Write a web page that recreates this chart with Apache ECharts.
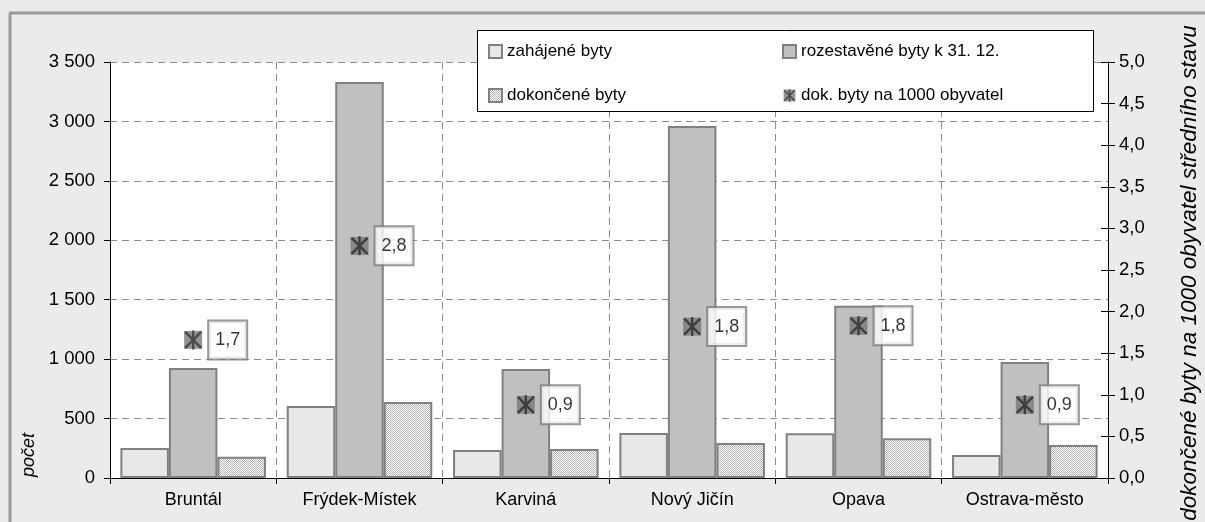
<!DOCTYPE html>
<html>
<head>
<meta charset="utf-8">
<script src="https://cdn.jsdelivr.net/npm/echarts@6/dist/echarts.min.js"></script>
<style>
  html, body { margin: 0; padding: 0; background: #ebebeb; }
  #chart { width: 1205px; height: 522px; }
</style>
</head>
<body>
<div id="chart"></div>
<script>
const categories = ["Bruntál", "Frýdek-Místek", "Karviná", "Nový Jičín", "Opava", "Ostrava-město"];
const zahajene = [252, 606, 235, 379, 376, 194];
const rozestavene = [925, 3332, 917, 2962, 1450, 976];
const dokoncene = [179, 640, 244, 294, 334, 278];
const naTisic = [1.66, 2.79, 0.88, 1.82, 1.83, 0.88];

const FONT = "'Liberation Sans', Arial, sans-serif";

// dotted fill for "dokončené byty"
function dotPattern() {
  const c = document.createElement("canvas");
  c.width = 2;
  c.height = 2;
  const ctx = c.getContext("2d");
  ctx.fillStyle = "#ffffff";
  ctx.fillRect(0, 0, 2, 2);
  ctx.fillStyle = "#b4b4b4";
  ctx.fillRect(0, 0, 1, 1);
  ctx.fillRect(1, 1, 1, 1);
  return c;
}

const markerSvg =
  "<svg xmlns='http://www.w3.org/2000/svg' width='20' height='20'>" +
  "<rect x='1' y='1' width='18' height='18' fill='#7a7a7a'/>" +
  "<path d='M2 2L18 18M18 2L2 18M10 0.5V19.5' stroke='#1e1e1e' stroke-width='2.4'/></svg>";
const markerSymbol = "image://data:image/svg+xml;charset=utf-8," + encodeURIComponent(markerSvg);

const chart = echarts.init(document.getElementById("chart"));

const option = {
  backgroundColor: "#ebebeb",
  animation: false,
  textStyle: { fontFamily: FONT },
  grid: { left: 110, right: 97, top: 62, bottom: 44, backgroundColor: "#fff", show: true, borderWidth: 0 },
  graphic: [
    { type: "line", shape: { x1: 10, y1: 13, x2: 10, y2: 522 }, style: { stroke: "#9a9a9a", lineWidth: 3 } },
    { type: "line", shape: { x1: 9, y1: 13, x2: 1205, y2: 13 }, style: { stroke: "#9a9a9a", lineWidth: 3 } },
    { type: "rect", z: 3, shape: { x: 477.5, y: 30.5, width: 616, height: 81 }, style: { fill: "#fff", stroke: "#000", lineWidth: 1 } },
    {
      type: "text", z: 5, x: 29, y: 455, rotation: Math.PI / 2,
      style: { text: "počet", font: "italic 18px " + FONT, fill: "#000", align: "center", verticalAlign: "middle" }
    },
    {
      type: "text", z: 5, x: 1190, y: 273, rotation: Math.PI / 2,
      style: { text: "dokončené byty na 1000 obyvatel středního stavu", font: "italic 22.5px " + FONT, fill: "#000", align: "center", verticalAlign: "middle" }
    }
  ],
  legend: [
    {
      left: 483, top: 38, orient: "vertical", itemGap: 27, itemWidth: 13, itemHeight: 13,
      textStyle: { fontSize: 17, color: "#000", fontFamily: FONT },
      data: [{ name: "zahájené byty", icon: "rect" }, { name: "dokončené byty", icon: "rect" }]
    },
    {
      left: 777, top: 38, orient: "vertical", itemGap: 27, itemWidth: 13, itemHeight: 13,
      textStyle: { fontSize: 17, color: "#000", fontFamily: FONT },
      data: [{ name: "rozestavěné byty k 31. 12.", icon: "rect" }, { name: "dok. byty na 1000 obyvatel", icon: markerSymbol }]
    }
  ],
  xAxis: {
    type: "category",
    data: categories,
    axisLine: { lineStyle: { color: "#000", width: 1 } },
    axisTick: { show: true, length: 6, lineStyle: { color: "#000" } },
    axisLabel: { fontSize: 18, color: "#000", margin: 13 },
    splitLine: { show: true, lineStyle: { color: "#8c8c8c", type: [7, 5] } }
  },
  yAxis: [
    {
      type: "value", min: 0, max: 3500, interval: 500,
      axisLine: { show: true, lineStyle: { color: "#000" } },
      axisTick: { show: true, length: 6, lineStyle: { color: "#000" } },
      axisLabel: {
        fontSize: 18.5, color: "#000", margin: 15,
        formatter: v => String(v).replace(/\B(?=(\d{3})+(?!\d))/g, " ")
      },
      splitLine: { show: true, lineStyle: { color: "#8c8c8c", type: [7, 5] } }
    },
    {
      type: "value", position: "right", min: 0, max: 5, interval: 0.5,
      axisLine: { show: true, lineStyle: { color: "#000" } },
      axisTick: { show: true, length: 7, lineStyle: { color: "#000" } },
      axisLabel: { fontSize: 18.5, color: "#000", margin: 11, formatter: v => v.toFixed(1).replace(".", ",") },
      splitLine: { show: false }
    },
    {
      type: "value", position: "right", min: 0, max: 5, interval: 0.5,
      axisLine: { show: false },
      axisTick: { show: true, inside: true, length: 7, lineStyle: { color: "#000" } },
      axisLabel: { show: false },
      splitLine: { show: false }
    }
  ],
  series: [
    {
      name: "zahájené byty", type: "bar", data: zahajene,
      barGap: "0%", barCategoryGap: "12.5%",
      itemStyle: { color: "#e8e8e8", borderColor: "#808080", borderWidth: 2 }
    },
    {
      name: "rozestavěné byty k 31. 12.", type: "bar", data: rozestavene,
      itemStyle: { color: "#c0c0c0", borderColor: "#808080", borderWidth: 2 }
    },
    {
      name: "dokončené byty", type: "bar", data: dokoncene,
      itemStyle: { color: { image: dotPattern(), repeat: "repeat" }, borderColor: "#808080", borderWidth: 2 }
    },
    {
      name: "dok. byty na 1000 obyvatel", type: "scatter", yAxisIndex: 1, data: naTisic,
      symbol: markerSymbol, symbolSize: 20, z: 6,
      label: {
        show: true, position: "right", distance: 6,
        formatter: p => p.value.toFixed(1).replace(".", ","),
        fontSize: 18, color: "#000",
        backgroundColor: "#fff", borderColor: "#808080", borderWidth: 2,
        padding: [10, 6, 9, 6]
      }
    }
  ]
};

chart.setOption(option);
</script>
</body>
</html>
